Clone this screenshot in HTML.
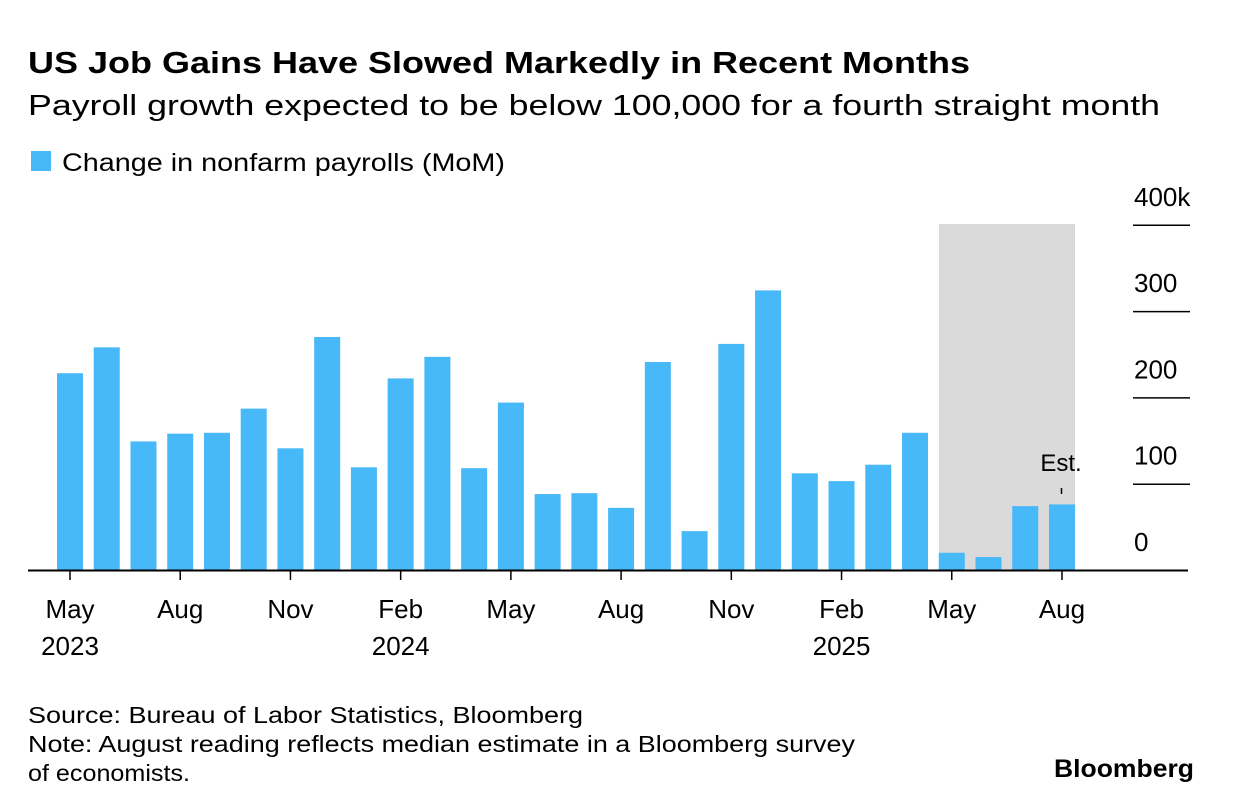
<!DOCTYPE html>
<html><head><meta charset="utf-8"><style>
body{margin:0;background:#fff;font-family:"Liberation Sans",sans-serif;}
svg{display:block}
</style></head><body>
<svg width="1233" height="812" id="c">
<text x="28" y="73" font-size="31" font-weight="bold" fill="#000" textLength="942" lengthAdjust="spacingAndGlyphs">US Job Gains Have Slowed Markedly in Recent Months</text>
<text x="28" y="115" font-size="29" fill="#000" textLength="1132" lengthAdjust="spacingAndGlyphs">Payroll growth expected to be below 100,000 for a fourth straight month</text>
<rect x="31" y="151" width="20" height="20" fill="#47b8f8"/>
<text x="62" y="171" font-size="25" fill="#000" textLength="443" lengthAdjust="spacingAndGlyphs">Change in nonfarm payrolls (MoM)</text>
<rect x="939" y="224" width="136" height="346" fill="#dadada"/>
<g id="bars"></g><g id="yaxis"></g><g id="xaxis"></g>
<line x1="28" y1="570.5" x2="1188" y2="570.5" stroke="#000" stroke-width="2"/>
<text x="1061" y="471" font-size="24" text-anchor="middle" fill="#000">Est.</text>
<line x1="1061.5" y1="488" x2="1061.5" y2="494" stroke="#000" stroke-width="1.5"/>
<text x="28" y="723" font-size="23" fill="#000" textLength="555" lengthAdjust="spacingAndGlyphs">Source: Bureau of Labor Statistics, Bloomberg</text>
<text x="28" y="752" font-size="23" fill="#000" textLength="827" lengthAdjust="spacingAndGlyphs">Note: August reading reflects median estimate in a Bloomberg survey</text>
<text x="28" y="781" font-size="23" fill="#000" textLength="162" lengthAdjust="spacingAndGlyphs">of economists.</text>
<text x="1054" y="777" font-size="25" font-weight="bold" fill="#000" textLength="140" lengthAdjust="spacingAndGlyphs">Bloomberg</text>
</svg>
<script>
const months=["May23","Jun23","Jul23","Aug23","Sep23","Oct23","Nov23","Dec23","Jan24","Feb24","Mar24","Apr24","May24","Jun24","Jul24","Aug24","Sep24","Oct24","Nov24","Dec24","Jan25","Feb25","Mar25","Apr25","May25","Jun25","Jul25","Aug25"];
const payrolls=[228,258,149,158,159,187,141,270,119,222,247,118,194,88,89,72,241,45,262,324,112,103,122,159,20,15,74,76];
const yTicks=[0,100,200,300,400];
const yTickLabels=["0","100","200","300","400k"];
const xLabelIdx=[0,3,6,9,12,15,18,21,24,27];
const xLabels=[["May","2023"],["Aug",""],["Nov",""],["Feb","2024"],["May",""],["Aug",""],["Nov",""],["Feb","2025"],["May",""],["Aug",""]];
const NS="http://www.w3.org/2000/svg";
const x=i=>70+i*36.74, y=v=>570-v*0.863;
const bars=document.getElementById('bars');
payrolls.forEach((v,i)=>{const r=document.createElementNS(NS,'rect');
r.setAttribute('x',x(i)-13);r.setAttribute('y',y(v));r.setAttribute('width',26);r.setAttribute('height',570-y(v));r.setAttribute('fill','#47b8f8');


bars.appendChild(r);});
const ya=document.getElementById('yaxis');
yTicks.forEach((t,k)=>{if(t>0){const l=document.createElementNS(NS,'line');
l.setAttribute('x1',1133);l.setAttribute('x2',1190);l.setAttribute('y1',y(t)+0.5);l.setAttribute('y2',y(t)+0.5);l.setAttribute('stroke','#000');l.setAttribute('stroke-width',1.5);


ya.appendChild(l);}
const tx=document.createElementNS(NS,'text');tx.setAttribute('x',1134);tx.setAttribute('y',y(t)-19);tx.setAttribute('font-size',26);tx.textContent=yTickLabels[k];


ya.appendChild(tx);});
const xa=document.getElementById('xaxis');
xLabelIdx.forEach((idx,k)=>{const l=document.createElementNS(NS,'line');
l.setAttribute('x1',x(idx));l.setAttribute('x2',x(idx));l.setAttribute('y1',570);l.setAttribute('y2',580);l.setAttribute('stroke','#000');l.setAttribute('stroke-width',1.5);


xa.appendChild(l);
xLabels[k].forEach((s,j)=>{if(!s)return;const t=document.createElementNS(NS,'text');
t.setAttribute('x',x(idx));t.setAttribute('y',618+j*37);t.setAttribute('font-size',26);t.setAttribute('text-anchor','middle');t.textContent=s;


xa.appendChild(t);});});
</script>
</body></html>
